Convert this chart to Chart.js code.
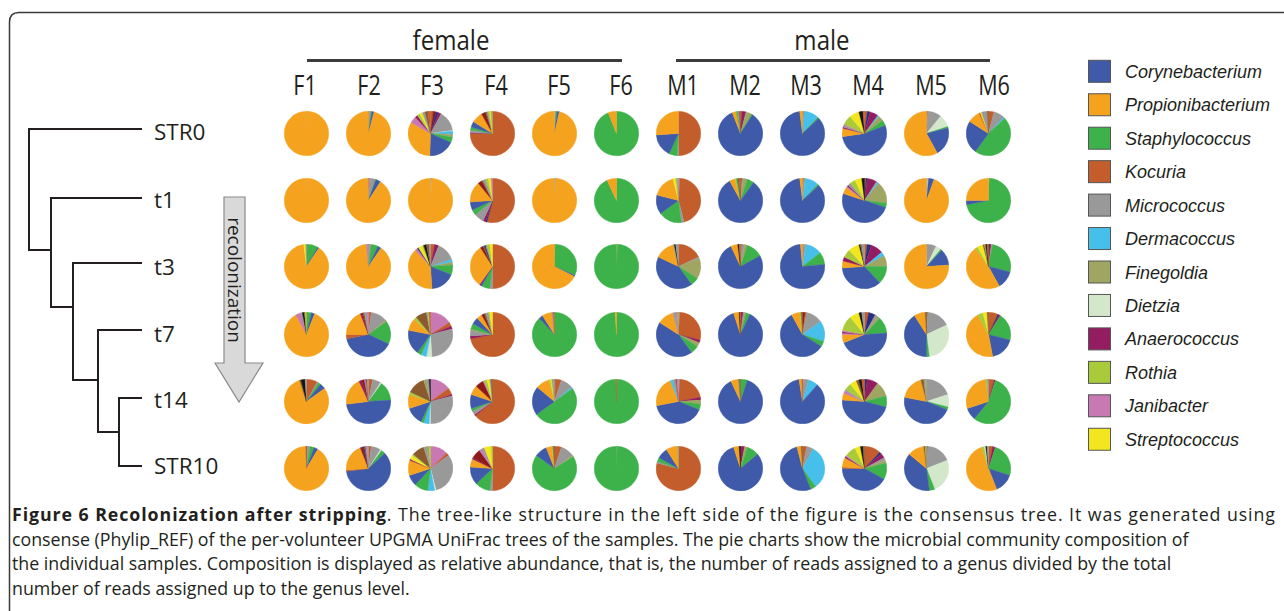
<!DOCTYPE html>
<html><head><meta charset="utf-8">
<script src="https://cdn.jsdelivr.net/npm/chart.js@4"></script>
<style>
html,body{margin:0;padding:0;background:#fff;}
#fig{position:relative;width:1284px;height:611px;overflow:hidden;background:#fff;}
#fig svg{position:absolute;left:0;top:0;}
canvas.pie{position:absolute;}
</style></head><body>
<div id="fig"><svg id="deco" width="1284" height="611"></svg></div>
<script>
// ---------- data ----------
const samples = ['F1','F2','F3','F4','F5','F6','M1','M2','M3','M4','M5','M6'];
const timepoints = ['STR0','t1','t3','t7','t14','STR10'];
const genera = ['Corynebacterium','Propionibacterium','Staphylococcus','Kocuria','Micrococcus','Dermacoccus','Finegoldia','Dietzia','Anaerococcus','Rothia','Janibacter','Streptococcus'];
const generaCodes = ['Co','Pr','St','Ko','Mi','De','Fi','Di','An','Ro','Ja','Sc'];
const generaColors = ['#3F5AA8','#F5A31F','#3DB24B','#C35E2C','#999999','#46BFEA','#A0A561','#D3E7CB','#941C60','#A8CA3B','#C879B4','#F2E71E'];
// genera without legend entry (other)
const otherCodes = ['Bk','Db','Dr','Nv'];
const otherColors = ['#151515','#8A5A2E','#8E1B1B','#2B2E80'];

// slices listed clockwise from 12 o'clock, [genus code, relative abundance %]
const STR0 = [
 [['Mi',0.4],['Pr',99.6]],
 [['Ko',0.5],['Mi',1.5],['St',0.5],['Co',1.5],['Pr',96]],
 [['Ko',2],['Dr',2],['Nv',2],['An',2],['Mi',15],['Di',0.5],['De',2.5],['Fi',2],['St',4],['Co',19],['Pr',33],['Ja',5],['An',2],['Ro',2],['Sc',2],['Mi',2],['Db',2],['Ko',2]],
 [['Ko',74],['An',0.5],['Mi',2],['St',2],['Co',4],['Pr',8],['Dr',3],['Db',1],['Mi',1],['Ro',1],['Sc',1],['Fi',1]],
 [['Mi',1],['St',1],['Co',1.5],['Pr',96.5]],
 [['St',94],['Pr',6]],
 [['Ko',50],['Mi',1],['St',6],['Co',17],['Pr',26]],
 [['Ko',1],['An',3],['Fi',4],['St',1],['Co',85],['Pr',3],['St',1],['Mi',1],['Db',1]],
 [['Ko',1],['De',11],['St',1],['Co',85],['Pr',2]],
 [['Ko',2],['Nv',2],['An',6],['De',1],['Fi',4],['St',4],['Co',53],['Pr',6],['An',1],['Mi',1],['Ja',1],['Ro',7],['Sc',7],['Bk',3],['Ko',1]],
 [['Ko',1],['Mi',10],['Di',9],['St',1],['Co',21],['Pr',58]],
 [['Ko',4],['Mi',8],['De',1],['St',47],['Co',24],['Pr',9],['Ko',1],['Sc',1],['Mi',4],['Db',1]]
];
const t1 = [
 [['Mi',0.5],['Pr',99.5]],
 [['Nv',0.5],['Ja',1],['Mi',3.5],['St',0.5],['Co',3.5],['Pr',91]],
 [['Mi',1],['Pr',99]],
 [['Ko',54],['Nv',1],['An',2],['Mi',7],['St',4],['Co',6],['Pr',15],['Dr',3],['Db',1],['Mi',2],['Ro',2],['Sc',2],['Ja',1]],
 [['De',0.5],['Mi',0.5],['Pr',99]],
 [['St',93],['Pr',7]],
 [['Ja',1],['Ko',45],['Mi',2],['St',17],['Co',14],['Pr',17],['Sc',2],['Ro',1],['Mi',1]],
 [['Dr',1],['Mi',1],['Fi',3],['St',5],['Co',82],['Pr',4],['Ro',1],['St',1],['Db',1],['Ko',1]],
 [['Ko',1],['Mi',1],['De',10],['St',1],['Co',85],['Pr',2]],
 [['Ko',1],['Nv',1],['An',7],['Mi',1],['De',1],['Fi',16],['St',3],['Co',50],['Pr',5],['Ja',1],['An',1],['Mi',2],['Ro',4],['Sc',5],['Bk',2]],
 [['Mi',1],['Di',0.5],['Co',4],['Pr',94.5]],
 [['Ro',0.5],['St',71.5],['Co',3],['Pr',25]]
];
const t3 = [
 [['Db',0.5],['St',8],['Co',1],['Pr',88.5],['Sc',1.5],['Mi',0.5]],
 [['Ko',0.5],['Mi',1.5],['St',5],['Co',2.5],['Pr',89],['Ja',1],['Mi',0.5]],
 [['Ko',3],['An',3],['Mi',14],['De',2],['Fi',2],['St',7],['Co',18],['Pr',39],['Ja',2],['Nv',1],['Sc',3],['Ro',1],['Bk',2],['Db',2],['Mi',1]],
 [['Ko',50],['Mi',2],['St',6],['Co',1],['An',1],['Pr',31],['Dr',2],['Db',1],['Nv',1],['Mi',1],['Ro',2],['Sc',2]],
 [['Mi',0.5],['St',31],['Co',1],['Pr',67.5]],
 [['Pr',0.7],['St',99.3]],
 [['Ko',18],['Mi',1],['Fi',15],['St',6],['Co',42],['Pr',14],['Fi',1],['Bk',1],['Mi',2]],
 [['Db',1],['Mi',2],['Fi',2],['St',12],['Co',76],['Pr',5],['Bk',1],['Ko',1]],
 [['Ko',0.5],['Mi',2],['De',12],['St',9],['Co',75],['Pr',1.5]],
 [['Ko',2],['Nv',3],['An',9],['De',3],['Fi',8],['St',13],['Co',36],['Pr',5],['An',3],['Ro',6],['Sc',8],['Bk',1],['Db',1],['Mi',2]],
 [['Mi',7],['Di',4],['St',1],['Co',12],['Pr',76]],
 [['Bk',1],['An',1],['Mi',1],['St',26],['Co',13],['Pr',48],['Ro',2],['Sc',4],['Db',1],['Fi',1],['Bk',1],['Ko',1]]
];
const t7 = [
 [['Db',0.5],['St',3],['Co',2.5],['Pr',86],['Ja',4],['Mi',1],['Bk',1.5],['Ko',0.5],['Ro',1]],
 [['Ko',2],['Mi',12],['Fi',1],['St',17],['Co',40],['Ko',3],['Pr',19],['An',1],['Dr',1],['Db',1],['Mi',2],['Ja',1]],
 [['Ja',16],['Ko',3],['An',2],['Mi',28],['Di',4],['De',4],['St',3],['Co',18],['Pr',9],['Ro',2],['Db',8],['Mi',1],['Ro',1],['Ko',1]],
 [['Ko',72],['An',2],['Mi',4],['Fi',1],['St',4],['Co',5],['Pr',4],['Dr',2],['Db',1],['Mi',2],['Ro',1],['Sc',2]],
 [['St',88],['Co',3],['Pr',7],['Mi',1],['Ko',1]],
 [['St',99],['Pr',1]],
 [['Mi',1],['Ko',28],['An',2],['Fi',3],['St',6],['Co',44],['Pr',12],['Mi',2],['Ja',1],['Fi',1]],
 [['Dr',1],['An',1],['Mi',1],['Fi',1],['St',3],['Co',88],['Pr',4],['Bk',0.5],['Ko',0.5]],
 [['Dr',2],['Ko',1],['Mi',12],['De',15],['St',4],['Co',58],['Pr',6],['Ro',1],['Db',1]],
 [['Ko',3],['Nv',5],['Mi',2],['Fi',2],['St',12],['Co',45],['Pr',6],['Ja',1],['An',1],['Ja',1],['Ro',11],['Sc',7],['Bk',2],['Mi',2]],
 [['Db',1],['Mi',17],['Di',30],['St',2],['Co',41],['Pr',8],['Db',1]],
 [['Ko',7],['Nv',1],['An',1],['St',20],['Co',18],['Pr',45],['Ro',4],['Sc',3],['Db',1]]
];
const t14 = [
 [['Ko',8],['Mi',1],['St',2],['Co',4],['Pr',80],['Db',1],['Bk',3],['Mi',1]],
 [['Ko',3],['Mi',6],['Di',1],['St',14],['Co',49],['Pr',20],['An',2],['Dr',2],['Ja',1],['Db',1],['Mi',1]],
 [['Ja',15],['Ko',5],['An',1],['Mi',29],['Di',1],['De',4],['St',2],['Co',13],['Pr',10],['Ro',2],['Db',13],['Fi',2],['Mi',2],['Bk',1]],
 [['Ko',64],['An',1],['Mi',3],['St',2],['Co',10],['Pr',7],['Dr',6],['Ja',1],['Ro',2],['Sc',2],['Mi',1],['Db',1]],
 [['Db',1],['Ko',4],['Mi',9],['De',1],['St',50],['Co',21],['Pr',10],['Ro',1],['Sc',1],['Fi',1],['Mi',1]],
 [['Fi',0.5],['St',99],['Ko',0.5]],
 [['Mi',1],['Ko',21],['An',2],['Fi',3],['St',4],['Co',41],['Pr',22],['De',2],['Mi',2],['Db',1],['Ja',1]],
 [['St',5],['Co',88],['Pr',5],['Fi',1],['Db',1]],
 [['Ko',0.5],['Mi',4],['De',7],['Co',86],['Pr',2],['Ko',0.5]],
 [['Nv',2],['An',8],['Fi',11],['St',8],['Co',47],['Pr',5],['Ja',2],['Mi',1],['Ro',5],['Sc',5],['Db',2],['Bk',2],['Ko',2]],
 [['Mi',20],['Di',9],['St',2],['Co',47],['Pr',18],['Db',2],['Mi',1],['Fi',1]],
 [['Ko',4],['An',1],['St',56],['Co',9],['Pr',28],['Ro',1],['Mi',1]]
];
const STR10 = [
 [['Bk',0.5],['Mi',2],['St',3],['Co',3],['Pr',91],['Ko',0.5]],
 [['Ko',2],['Mi',7],['Di',1],['St',3],['Co',60],['Ko',1],['Pr',20],['Dr',2],['Nv',1],['Db',1],['Ja',1],['Mi',1]],
 [['Ja',13],['Ko',2],['Mi',31],['Di',1],['De',5],['St',10],['Co',8],['Pr',11],['An',1],['Sc',3],['Ro',1],['Db',9],['Mi',2],['Fi',2],['Ro',1]],
 [['Ko',50],['Mi',2],['St',11],['Co',13],['Pr',6],['An',1],['Dr',7],['Ja',2],['Mi',2],['Sc',5],['Ro',1]],
 [['Ko',5],['Mi',10],['Fi',1],['St',69],['Co',9],['Pr',4],['Ro',1],['Db',1]],
 [['Fi',0.5],['St',99.5]],
 [['Ko',79],['Mi',1],['St',3],['Co',8],['Pr',8],['Fi',1]],
 [['An',3],['Fi',2],['St',9],['Co',81],['Pr',4],['Bk',1]],
 [['Ko',3],['Mi',5],['De',32],['St',4],['Co',52],['Pr',3],['Db',1]],
 [['Ko',12],['Nv',1.5],['An',3.5],['Mi',2],['Fi',2],['St',12],['Co',42],['Ko',1],['Pr',7],['An',1],['Ja',1],['Ro',8],['Sc',4],['Bk',2],['Db',1]],
 [['Db',1],['Mi',18],['Di',25],['St',4],['Co',38],['Pr',12],['Db',1],['Fi',1]],
 [['Ko',3],['An',2],['St',25],['Co',14],['Pr',51],['Ro',2],['Di',1],['Bk',1],['Mi',1]]
];
const rows = [STR0, t1, t3, t7, t14, STR10];

// ---------- layout ----------
const colX = [306.5,368.5,430.5,492.5,554.5,616.5,678.5,740.5,802.5,864.5,926.5,988.5];
const rowY = [133.3,200,266.7,334,401,468.3];
const labelX = [305,369,432,496,559,621,683,745,806,868,931,994];
const PIE = 45;

const colorOf = {};
generaCodes.forEach((c,i)=>colorOf[c]=generaColors[i]);
otherCodes.forEach((c,i)=>colorOf[c]=otherColors[i]);
const nameOf = {};
generaCodes.forEach((c,i)=>nameOf[c]=genera[i]);
otherCodes.forEach(c=>nameOf[c]='other');

// ---------- decorations (SVG) ----------
const svg = document.getElementById('deco');
let s = '';
// frame
s += '<path d="M9.5,611 V22 Q9.5,12.5 19,12.5 H1290" fill="none" stroke="#3a3a3a" stroke-width="1.5"/>';
// group headers
const cond = (x,y,txt,size,sx)=>`<text transform="translate(${x},${y}) scale(${sx},1)" text-anchor="middle" font-family="Open Sans" font-size="${size}" fill="#231F20">${txt}</text>`;
s += cond(451,50,'female',28,0.86);
s += cond(822,50,'male',28,0.86);
s += '<line x1="307" y1="60.5" x2="622" y2="60.5" stroke="#3c3c3c" stroke-width="3"/>';
s += '<line x1="676" y1="60.5" x2="990" y2="60.5" stroke="#3c3c3c" stroke-width="3"/>';
samples.forEach((n,i)=>{ s += cond(labelX[i],95,n,27,0.8); });
// tree
s += '<path d="M142,129 H29 V250 H51 M142,198 H51 V307 H73 M142,263 H73 V380 H98 M142,330 H98 V432 H119 M142,398 H119 V466 H142" fill="none" stroke="#231F20" stroke-width="2"/>';
const rowBase = [140,208,275,342,408,474];
timepoints.forEach((n,i)=>{ s += `<text x="154" y="${rowBase[i]}" font-family="Open Sans" font-size="22.5" fill="#231F20">${n}</text>`; });
// arrow
s += '<path d="M224,197 H245 V363 H263 L239,402 L215,363 H224 Z" fill="#D9D9D9" stroke="#8a8a8a" stroke-width="1.2"/>';
s += '<text transform="translate(234.5,280) rotate(90)" text-anchor="middle" dominant-baseline="central" font-family="Open Sans" font-size="19" fill="#231F20">recolonization</text>';
// legend
genera.forEach((g,i)=>{
  const cy = 71.3 + 33.45*i;
  s += `<rect x="1088.5" y="${cy-11}" width="22" height="22" fill="${generaColors[i]}" stroke="#555" stroke-width="1"/>`;
  s += `<text x="1125" y="${cy+6.5}" font-family="Liberation Sans, Arial, sans-serif" font-style="italic" font-size="18" fill="#231F20">${g}</text>`;
});
// caption
const capY = [521,545.5,570,594.5];
const capLines = [
 '<tspan font-weight="bold">Figure 6 Recolonization after stripping</tspan>. The tree-like structure in the left side of the figure is the consensus tree. It was generated using',
 'consense (Phylip_REF) of the per-volunteer UPGMA UniFrac trees of the samples. The pie charts show the microbial community composition of',
 'the individual samples. Composition is displayed as relative abundance, that is, the number of reads assigned to a genus divided by the total',
 'number of reads assigned up to the genus level.'
];
capLines.forEach((l,i)=>{
  const fit = i===0 ? ' textLength="1263" lengthAdjust="spacing"' : '';
  s += `<text x="12" y="${capY[i]}"${fit} font-family="Open Sans" font-size="17.8" fill="#231F20">${l}</text>`;
});
svg.innerHTML = s;

// ---------- pies (Chart.js) ----------
const fig = document.getElementById('fig');
rows.forEach((row,r)=>{
  row.forEach((pie,c)=>{
    const cv = document.createElement('canvas');
    cv.className = 'pie';
    cv.width = PIE; cv.height = PIE;
    cv.style.width = PIE+'px'; cv.style.height = PIE+'px';
    cv.style.left = (colX[c]-PIE/2)+'px';
    cv.style.top = (rowY[r]-PIE/2)+'px';
    fig.appendChild(cv);
    const cols = pie.map(p=>colorOf[p[0]]);
    new Chart(cv.getContext('2d'), {
      type: 'pie',
      data: {
        labels: pie.map(p=>nameOf[p[0]]),
        datasets: [{ data: pie.map(p=>p[1]), backgroundColor: cols, borderColor: cols, borderWidth: 0.4 }]
      },
      options: {
        responsive: false, animation: false, events: [],
        layout: { padding: 0 },
        plugins: { legend: { display: false }, tooltip: { enabled: false } }
      }
    });
  });
});
</script>
</body></html>
